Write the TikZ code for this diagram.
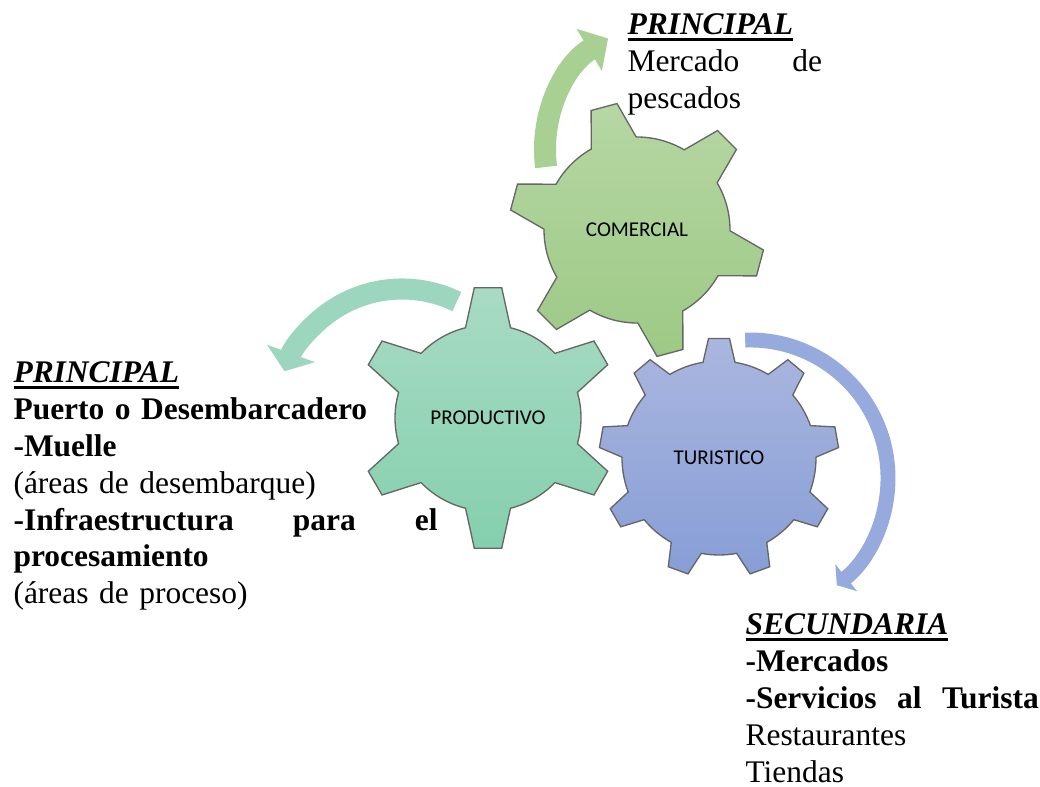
\documentclass[tikz,border=0pt]{standalone}
\usepackage{fontspec}
\setmainfont{Liberation Serif}
\newfontfamily\carlito{Carlito}
\usepackage{tikz}
\usetikzlibrary{arrows.meta}

\definecolor{verdeA}{RGB}{182,215,164}
\definecolor{verdeB}{RGB}{157,201,133}
\definecolor{aguaA}{RGB}{168,219,196}
\definecolor{aguaB}{RGB}{132,207,174}
\definecolor{azulA}{RGB}{170,182,223}
\definecolor{azulB}{RGB}{135,158,214}
\definecolor{flechaVerde}{RGB}{168,208,146}
\definecolor{flechaAgua}{RGB}{156,214,190}
\definecolor{flechaAzul}{RGB}{151,170,222}

% underlined bold italic heading
\newsavebox{\cajatitulo}
\newcommand{\titulo}[1]{\sbox{\cajatitulo}{\bfseries\itshape #1}\usebox{\cajatitulo}\llap{\rule[-2.25pt]{\wd\cajatitulo}{1.1pt}}}

% gear: centre, body radius, tooth radius, teeth, first tooth angle, half base angle, half tip angle, style
\newcommand{\engranaje}[8]{%
  \begin{scope}[shift={#1}]
    \pgfmathsetmacro{\paso}{360/#4}
    \pgfmathtruncatemacro{\ult}{#4-1}
    \draw[#8] ({#5-#6}:#2)
      \foreach \k [evaluate=\k as \ang using #5+\k*\paso] in {0,...,\ult} {
        -- ({\ang-#7}:#3) -- ({\ang+#7}:#3) -- ({\ang+#6}:#2)
        arc[start angle=\ang+#6, end angle=\ang+\paso-#6, radius=#2]
      } -- cycle;
  \end{scope}}

\begin{document}
\begin{tikzpicture}[
    x=0.375pt, y=0.375pt,
    rueda/.style={draw=black!60, line width=0.5pt},
    etiqueta/.style={font=\carlito\fontsize{7.9}{9.5}\selectfont},
    bloque/.style={anchor=base west, inner sep=0pt, align=left, font=\fontsize{11.8}{13.8}\selectfont},
    flecha/.style={line width=#1}
]
\useasboundingbox (0,0) rectangle (1040,787);

% Gears
\engranaje{(637,557)}{93}{128}{6}{45}{14.5}{6}{rueda, top color=verdeA, bottom color=verdeB}
\engranaje{(488,369)}{93}{131}{6}{90}{14}{6}{rueda, top color=aguaA, bottom color=aguaB}
\engranaje{(719,329)}{97}{120}{9}{90}{9.5}{5}{rueda, top color=azulA, bottom color=azulB}

\node[etiqueta] (comercial) at (637,557) {COMERCIAL};
\node[etiqueta] (productivo) at (488,369) {PRODUCTIVO};
\node[etiqueta] (turistico) at (719,329) {TURISTICO};

% Arrows
\draw[flecha=8.25pt, flechaVerde, -{Triangle[width=18pt, length=8.25pt]}]
  ([shift={(187.5:130)}]675,637) arc[start angle=187.5, end angle=121, radius=130];
\draw[flecha=7.9pt, flechaAgua, -{Triangle[width=18.75pt, length=7.1pt]}]
  ([shift={(64:125)}]402,373) arc[start angle=64, end angle=160, radius=125];
\draw[flecha=5.6pt, flechaAzul, -{Triangle[width=12.75pt, length=4.5pt]}]
  ([shift={(92:138)}]750,309) arc[start angle=92, end angle=-51, radius=138];

% Texts
\node[bloque, text width=73pt] (principalA) at (627,752) {\titulo{PRINCIPAL}\\
  Mercado\hfill de\\
  pescados};
\node[bloque, text width=159pt] (principalB) at (13,404) {\titulo{PRINCIPAL}\\
  \textbf{Puerto o Desembarcadero}\\
  \textbf{-Muelle}\\
  (áreas de desembarque)\\
  \textbf{-Infraestructura\hfill para\hfill el}\\
  \textbf{procesamiento}\\
  (áreas de proceso)};
\node[bloque, text width=110pt] (secundaria) at (745,152) {\titulo{SECUNDARIA}\\
  \textbf{-Mercados}\\
  \textbf{-Servicios\hfill al\hfill Turista}\\
  Restaurantes\\
  Tiendas};

\end{tikzpicture}
\end{document}
